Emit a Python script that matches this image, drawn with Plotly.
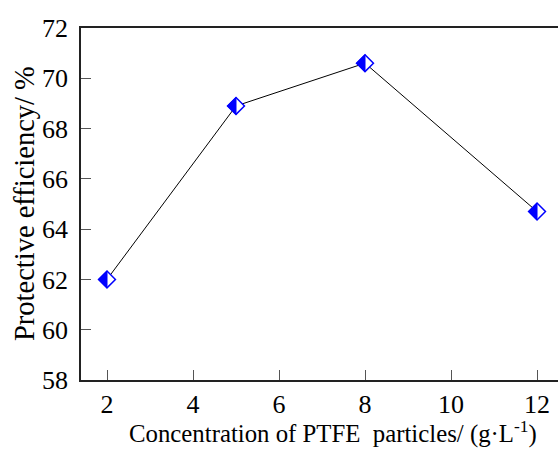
import plotly.graph_objects as go

conc = [2, 5, 8, 12]
efficiency = [62.0, 68.9, 70.6, 64.7]
x_ticks = [2, 4, 6, 8, 10, 12]
y_ticks = [58, 60, 62, 64, 66, 68, 70, 72]

FONT = "Liberation Serif"
BLUE = "#0000ff"

fig = go.Figure()
fig.add_trace(go.Scatter(
    x=conc, y=efficiency, mode="lines",
    line=dict(color="black", width=1), hoverinfo="skip", showlegend=False))
fig.add_trace(go.Scatter(
    x=conc, y=efficiency, mode="markers",
    marker=dict(symbol="diamond", size=13, color="white",
                line=dict(color=BLUE, width=1.5)),
    showlegend=False))

# left half filled of each diamond
for xv, yv in zip(conc, efficiency):
    fig.add_shape(type="path", xref="x", yref="y",
                  xsizemode="pixel", ysizemode="pixel",
                  xanchor=xv, yanchor=yv,
                  path="M -8.5,0 L 0,8.5 L 0,-8.5 Z",
                  fillcolor=BLUE, line=dict(color=BLUE, width=1), layer="above")

fig.add_annotation(
    text="Concentration of PTFE\u00a0 particles/ (g\u00b7L<sup>-1</sup>)",
    xref="paper", yref="paper", x=0.528, y=0, xanchor="center", yanchor="middle",
    yshift=-52, showarrow=False, font=dict(family=FONT, size=24.8, color="black"))
fig.add_annotation(
    text="Protective efficiency/ %",
    xref="paper", yref="paper", x=0, y=0.5, xanchor="center", yanchor="middle",
    xshift=-57, textangle=-90, showarrow=False,
    font=dict(family=FONT, size=28.5, color="black"))

fig.update_layout(
    width=558, height=450,
    margin=dict(l=81, r=0, t=28, b=70),
    paper_bgcolor="white", plot_bgcolor="white",
    font=dict(family=FONT, color="black", size=26),
    xaxis=dict(
        range=[1.3953, 12.488], tickvals=x_ticks, ticktext=[str(v) for v in x_ticks],
        ticks="inside", ticklen=10, tickwidth=1, tickcolor="#555",
        showline=True, linecolor="#222", linewidth=1.5, mirror=True,
        showgrid=False, zeroline=False, automargin=False,
        tickfont=dict(size=26), ticklabelstandoff=0,
    ),
    yaxis=dict(
        range=[58, 72], tickvals=y_ticks, ticktext=[str(v) for v in y_ticks],
        ticks="inside", ticklen=10, tickwidth=1, tickcolor="#555",
        showline=True, linecolor="#222", linewidth=1.5, mirror=False,
        showgrid=False, zeroline=False, automargin=False,
        tickfont=dict(size=26), ticklabelstandoff=6,
    ),
)

fig.write_html("out.html", config={"displayModeBar": False},
               post_script="document.body.style.margin='0';document.body.style.padding='0';")
